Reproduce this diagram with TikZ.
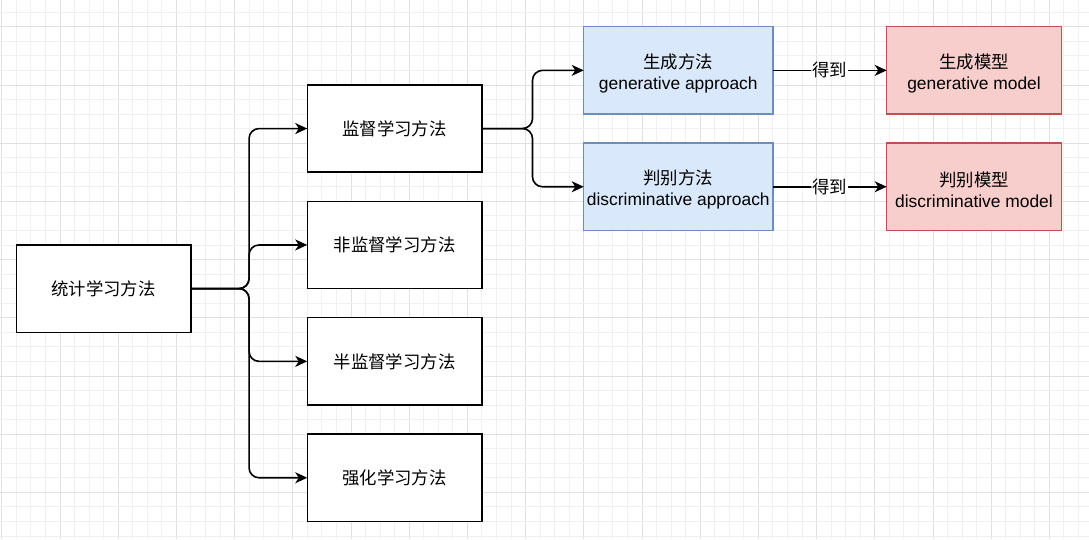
\documentclass[tikz,border=0pt]{standalone}
\usepackage{fontspec}
\setmainfont{Liberation Sans}
\newfontfamily\cjk{Noto Sans CJK SC}
\usetikzlibrary{arrows.meta}
\tikzset{
  x=1pt,y=-1pt,
  gridminor/.style={draw=black!6,line width=0.8pt},
  gridmajor/.style={draw=black!12,line width=0.8pt},
  boxfont/.style={font=\fontsize{17.4}{21}\selectfont},
  box/.style={draw=black,fill=white,line width=1.5pt,outer sep=0pt,inner sep=2pt,align=center,boxfont},
  twoline/.style={label={[boxfont,align=center,yshift=-3pt]center:#1}},
  plainbox/.style={box,minimum width=174.6pt,minimum height=87.3pt},
  bluebox/.style={box,draw=blue6c,fill=bluedae,minimum width=189.15pt,minimum height=87.3pt},
  redbox/.style={box,draw=redb85,fill=redf8c,minimum width=174.6pt,minimum height=87.3pt},
  conn/.style={draw=black,line width=1.6pt,rounded corners=10pt,-{Stealth[length=12pt,width=11pt,inset=3.5pt]}},
  edgelabel/.style={fill=white,inner sep=1pt,boxfont}
}
\definecolor{blue6c}{HTML}{6C8EBF}
\definecolor{bluedae}{HTML}{DAE8FC}
\definecolor{redb85}{HTML}{B85450}
\definecolor{redf8c}{HTML}{F8CECC}
\begin{document}
\begin{tikzpicture}
\fill[white] (0,0) rectangle (1089,539);
\useasboundingbox (0,0) rectangle (1089,539);
% grid
\foreach \k in {0,...,74} {
  \pgfmathsetmacro\xx{1.7+14.55*\k}
  \pgfmathtruncatemacro\m{mod(\k,4)}
  \ifnum\m=0 \draw[gridmajor] (\xx,0) -- (\xx,539);
  \else \draw[gridminor] (\xx,0) -- (\xx,539); \fi
}
\foreach \k in {0,...,36} {
  \pgfmathsetmacro\yy{12.15+14.55*\k}
  \pgfmathtruncatemacro\m{mod(\k,4)}
  \ifnum\m=1 \draw[gridmajor] (0,\yy) -- (1089,\yy);
  \else \draw[gridminor] (0,\yy) -- (1089,\yy); \fi
}
% nodes
\node[plainbox] (A) at (103.55,288.6) {\cjk 统计学习方法};
\node[plainbox] (B1) at (394.55,128.55) {\cjk 监督学习方法};
\node[plainbox] (B2) at (394.55,244.95) {\cjk 非监督学习方法};
\node[plainbox] (B3) at (394.55,361.35) {\cjk 半监督学习方法};
\node[plainbox] (B4) at (394.55,477.75) {\cjk 强化学习方法};
\node[bluebox,twoline={{\cjk 生成方法}\\generative approach}] (C1) at (678.3,70.35) {};
\node[bluebox,twoline={{\cjk 判别方法}\\discriminative approach}] (C2) at (678.3,186.75) {};
\node[redbox,twoline={{\cjk 生成模型}\\generative model}] (D1) at (974,70.35) {};
\node[redbox,twoline={{\cjk 判别模型}\\discriminative model}] (D2) at (974,186.75) {};
\coordinate (j1) at (249.05,288.6);
\coordinate (j2) at (532.5,128.55);
% connectors
\draw[conn] (A.east) -- (j1) |- (B1.west);
\draw[conn] (A.east) -- (j1) |- (B2.west);
\draw[conn] (A.east) -- (j1) |- (B3.west);
\draw[conn] (A.east) -- (j1) |- (B4.west);
\draw[conn] (B1.east) -- (j2) |- (C1.west);
\draw[conn] (B1.east) -- (j2) |- (C2.west);
\draw[conn] (C1.east) -- node[edgelabel] {\cjk 得到} (D1.west);
\draw[conn] (C2.east) -- node[edgelabel] {\cjk 得到} (D2.west);
\end{tikzpicture}
\end{document}
